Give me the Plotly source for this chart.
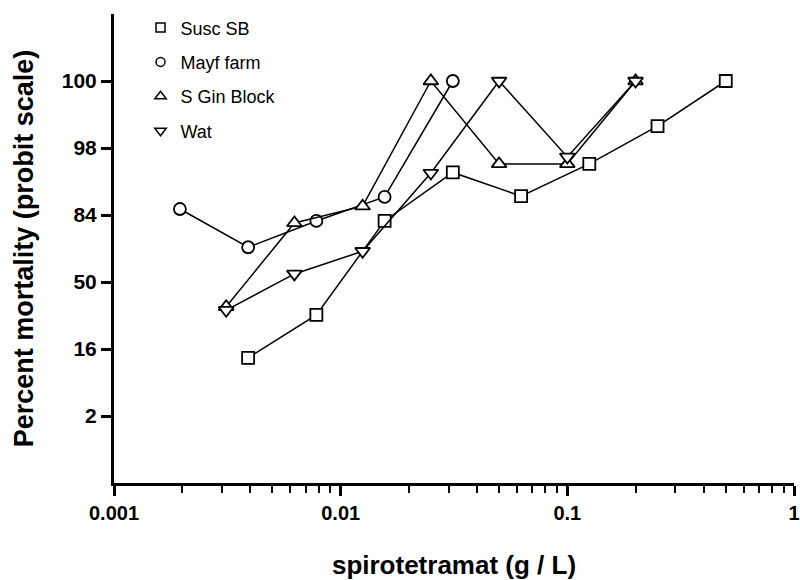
import plotly.graph_objects as go
from statistics import NormalDist

# Dose (g / L)
dose_mayf = [0.001953125, 0.00390625, 0.0078125, 0.015625, 0.03125]
dose_susc = [0.00390625, 0.0078125, 0.015625, 0.03125, 0.0625, 0.125, 0.25, 0.5]
dose_tri = [0.003125, 0.00625, 0.0125, 0.025, 0.05, 0.1, 0.2]

# Percent mortality
mort_susc = [12.9, 31.2, 81.9, 94.9, 90.0, 96.1, 99.0, 100]
mort_mayf = [86.2, 69.8, 81.9, 89.8, 100]
mort_sgin = [35.6, 81.1, 87.1, 100, 96.1, 96.1, 100]
mort_wat = [33.7, 54.8, 67.7, 94.8, 100, 96.9, 100]

names = ["Susc SB", "Mayf farm", "S Gin Block", "Wat"]
symbols = ["square", "circle", "triangle-up", "triangle-down"]

tick_pct = [2, 16, 50, 84, 98, 100]
tick_probit = [-2, -1, 0, 1, 2, 3]
x_ticks = [0.001, 0.01, 0.1, 1]
x_ticktext = ["0.001", "0.01", "0.1", "1"]


def probit(p):
    p = min(p, 99.865)
    return NormalDist().inv_cdf(p / 100.0)


series = [
    (dose_susc, mort_susc),
    (dose_mayf, mort_mayf),
    (dose_tri, mort_sgin),
    (dose_tri, mort_wat),
]

FONT = "Liberation Sans, Arial, sans-serif"
fig = go.Figure()

for (xs, ys), name, sym in zip(series, names, symbols):
    fig.add_trace(go.Scatter(
        x=xs, y=[probit(v) for v in ys], mode="lines+markers", name=name,
        showlegend=False,
        line=dict(color="black", width=1.5),
        marker=dict(symbol=sym, size=12 if "triangle" not in sym else 13,
                    color="white", line=dict(color="black", width=1.8)),
    ))

for i, (name, sym) in enumerate(zip(names, symbols)):
    fig.add_trace(go.Scatter(
        x=[None], y=[None], mode="markers", name=name, legendgroup=f"g{i}",
        marker=dict(symbol=sym, size=9 if "triangle" not in sym else 10,
                    color="white", line=dict(color="black", width=1.5)),
    ))

minor_vals = [m * 10 ** e for e in (-3, -2, -1) for m in range(2, 10)]

fig.update_layout(
    width=800, height=580,
    margin=dict(l=114, r=6, t=14, b=97),
    paper_bgcolor="white", plot_bgcolor="white",
    font=dict(family=FONT, color="black"),
    legend=dict(x=0.039, y=1.01, xanchor="left", yanchor="top",
                font=dict(family=FONT, size=18, color="black"),
                bgcolor="rgba(0,0,0,0)", tracegroupgap=8, itemwidth=30),
    xaxis=dict(
        type="log", range=[-3, 0], automargin=False,
        showline=True, linewidth=3, linecolor="black",
        ticks="outside", ticklen=10, tickwidth=2.5, tickcolor="black",
        tickvals=x_ticks, ticktext=x_ticktext,
        tickfont=dict(family=FONT, size=20, weight="bold", color="black"),
        minor=dict(tickvals=minor_vals, ticks="outside", ticklen=7, tickwidth=2, tickcolor="black", showgrid=False),
        showgrid=False, zeroline=False,
        title=dict(text="spirotetramat (g / L)", standoff=33,
                   font=dict(family=FONT, size=26, weight="bold", color="black")),
    ),
    yaxis=dict(
        range=[-3, 4], automargin=False,
        showline=True, linewidth=3, linecolor="black",
        ticks="outside", ticklen=10, tickwidth=2.5, tickcolor="black",
        tickvals=tick_probit, ticktext=[str(v) for v in tick_pct],
        tickfont=dict(family=FONT, size=21, weight="bold", color="black"),
        showgrid=False, zeroline=False,
        title=dict(text="Percent mortality (probit scale)", standoff=21,
                   font=dict(family=FONT, size=27, weight="bold", color="black")),
    ),
)

fig.write_html("out.html")
